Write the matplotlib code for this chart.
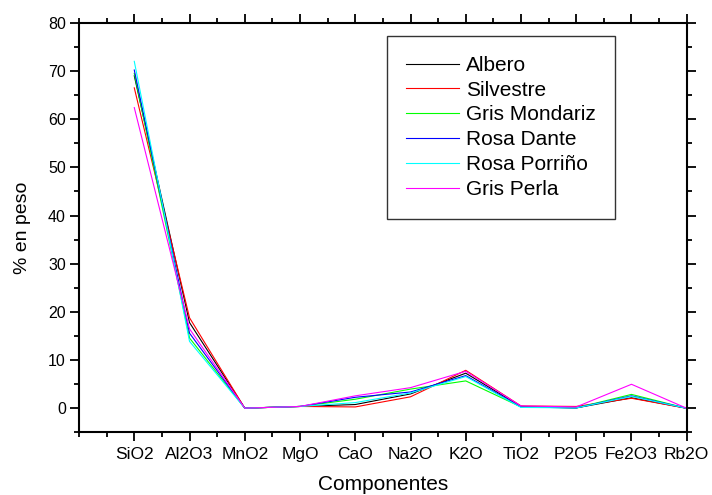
import numpy as np
import matplotlib.pyplot as plt
from matplotlib.ticker import MultipleLocator

plt.rcParams['font.family'] = ['Liberation Sans', 'DejaVu Sans']

componentes = ["SiO2", "Al2O3", "MnO2", "MgO", "CaO", "Na2O",
               "K2O", "TiO2", "P2O5", "Fe2O3", "Rb2O"]

albero = [69.0, 17.8, 0.05, 0.4, 0.8, 3.0, 7.3, 0.4, 0.1, 2.2, 0.02]
silvestre = [66.5, 18.8, 0.05, 0.4, 0.3, 2.4, 7.9, 0.5, 0.4, 2.1, 0.02]
gris_mondariz = [69.5, 14.6, 0.05, 0.4, 1.9, 4.0, 5.7, 0.3, 0.1, 2.9, 0.02]
rosa_dante = [70.2, 15.6, 0.05, 0.4, 2.3, 3.4, 6.8, 0.3, 0.1, 2.6, 0.02]
rosa_porrino = [72.0, 13.9, 0.05, 0.4, 1.2, 3.2, 6.6, 0.2, 0.1, 2.5, 0.02]
gris_perla = [62.4, 16.5, 0.05, 0.4, 2.6, 4.3, 7.7, 0.5, 0.3, 5.0, 0.02]

series = [
    ("Albero", albero, "black"),
    ("Silvestre", silvestre, "#ff0000"),
    ("Gris Mondariz", gris_mondariz, "#00ff00"),
    ("Rosa Dante", rosa_dante, "#0000ff"),
    ("Rosa Porriño", rosa_porrino, "#00ffff"),
    ("Gris Perla", gris_perla, "#ff00ff"),
]

x = np.arange(1, len(componentes) + 1)

fig = plt.figure(figsize=(7.12, 4.95), dpi=100)
ax = fig.add_axes([0.111, 0.1263, 0.8535, 0.8277])

for name, vals, col in series:
    ax.plot(x, vals, color=col, lw=0.8, label=name)

ax.set_xlim(0, 11)
ax.set_ylim(-5, 80)
ax.set_xticks(x)
ax.set_xticklabels(componentes, fontsize=12.5)
ax.xaxis.set_minor_locator(MultipleLocator(0.5))
ax.set_yticks(np.arange(0, 81, 10))
ax.yaxis.set_minor_locator(MultipleLocator(5))
ax.tick_params(axis='y', labelsize=11.5)

ax.tick_params(which='both', direction='out', top=True, right=True, width=1.3)
ax.tick_params(which='major', length=6.5)
ax.tick_params(which='minor', length=3.5)
ax.tick_params(axis='x', pad=4)
ax.tick_params(axis='y', pad=3)
for sp in ax.spines.values():
    sp.set_linewidth(1.5)

ax.set_xlabel("Componentes", fontsize=15, labelpad=9)
ax.set_ylabel("% en peso", fontsize=14, labelpad=12)

leg = ax.legend(loc='upper left', bbox_to_anchor=(386.7 / 712, 1 - 36 / 495),
                bbox_transform=fig.transFigure, fontsize=15, frameon=True,
                fancybox=False, edgecolor='black', borderpad=0.95,
                handlelength=2.5, handletextpad=0.35, labelspacing=0.28,
                borderaxespad=0)
leg.get_frame().set_linewidth(1.0)

fig.savefig("out.png", dpi=100)
